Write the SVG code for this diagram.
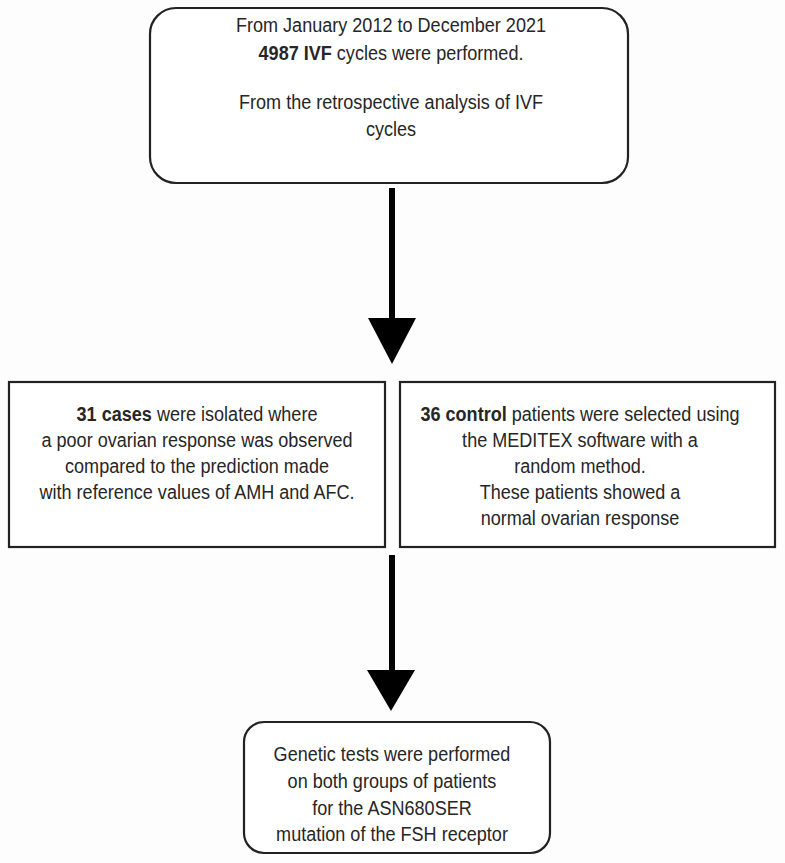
<svg xmlns="http://www.w3.org/2000/svg" width="785" height="863" viewBox="0 0 785 863">
<style>
.box{fill:#ffffff;stroke:#222222;stroke-width:2.2}
.t{font-family:"Liberation Sans",Arial,sans-serif;font-size:21px;fill:#262626;text-anchor:middle}
.b{font-weight:bold}
.arr{fill:#000000}
</style>
<rect width="785" height="863" fill="#fdfdfd"/>
<g id="node-top">
<rect class="box" x="150" y="8" width="478" height="175" rx="26" ry="26"/>
<g transform="translate(391 0) scale(0.86 1)">
<text class="t" x="0" y="32">From January 2012 to December 2021</text>
<text class="t" x="0" y="60"><tspan class="b">4987 IVF</tspan> cycles were performed.</text>
<text class="t" x="0" y="109">From the retrospective analysis of IVF</text>
<text class="t" x="0" y="136">cycles</text>
</g>
</g>
<g id="node-cases">
<rect class="box" x="9" y="382" width="376" height="165"/>
<g transform="translate(197 0) scale(0.86 1)">
<text class="t" x="0" y="421"><tspan class="b">31 cases</tspan> were isolated where</text>
<text class="t" x="0" y="447">a poor ovarian response was observed</text>
<text class="t" x="0" y="473">compared to the prediction made</text>
<text class="t" x="0" y="499">with reference values of AMH and AFC.</text>
</g>
</g>
<g id="node-controls">
<rect class="box" x="400" y="382" width="375" height="165"/>
<g transform="translate(580 0) scale(0.86 1)">
<text class="t" x="0" y="421"><tspan class="b">36 control</tspan> patients were selected using</text>
<text class="t" x="0" y="447">the MEDITEX software with a</text>
<text class="t" x="0" y="473">random method.</text>
<text class="t" x="0" y="499">These patients showed a</text>
<text class="t" x="0" y="525">normal ovarian response</text>
</g>
</g>
<g id="node-genetic">
<rect class="box" x="244" y="722" width="306" height="131" rx="20" ry="20"/>
<g transform="translate(392 0) scale(0.86 1)">
<text class="t" x="0" y="761">Genetic tests were performed</text>
<text class="t" x="0" y="788">on both groups of patients</text>
<text class="t" x="0" y="815">for the ASN680SER</text>
<text class="t" x="0" y="841">mutation of the FSH receptor</text>
</g>
</g>
<g id="connectors">
<rect class="arr" x="389" y="188" width="6" height="132"/>
<polygon class="arr" points="368,318 416,318 392,364"/>
<rect class="arr" x="389" y="555" width="6" height="117"/>
<polygon class="arr" points="367,670 415,670 391,711"/>
</g>
</svg>
